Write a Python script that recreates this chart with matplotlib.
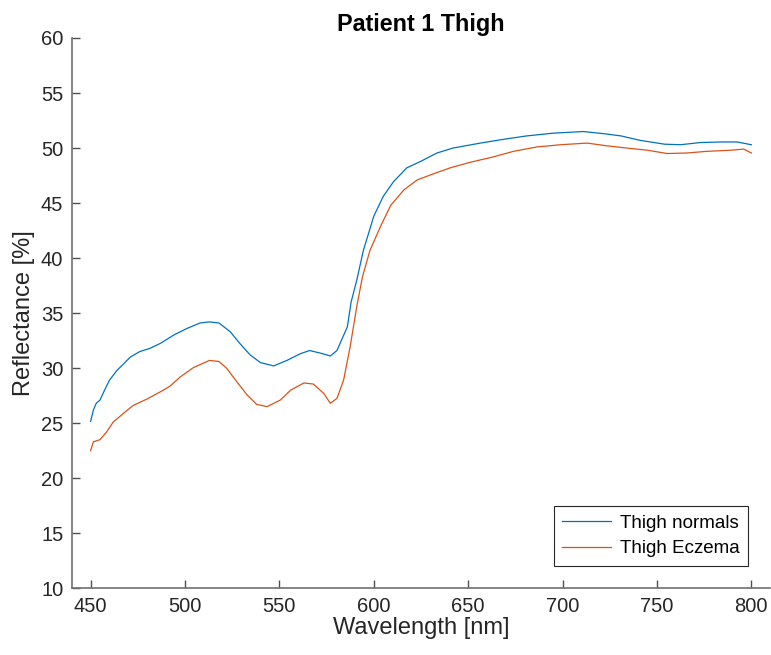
import matplotlib.pyplot as plt

plt.rcParams['font.family'] = ['Liberation Sans', 'DejaVu Sans']

# wavelength [nm] / reflectance [%]
wl_normal = [450, 451.5, 453, 455, 457, 460, 464, 467, 471, 476, 481.5, 487, 494, 501, 508,
             513, 518, 524, 529, 534.5, 540, 547, 554, 561, 566, 572, 577, 580.5, 586, 588,
             591, 594.5, 600, 605, 610.5, 617.5, 625, 633.5, 642, 656.5, 669, 681, 695, 711,
             722, 731, 741, 754, 762.5, 773, 784, 792.5, 800]
refl_normal = [25.15, 26.2, 26.8, 27.1, 27.85, 28.9, 29.8, 30.3, 31.0, 31.5, 31.8, 32.25, 33.0, 33.6, 34.1,
               34.2, 34.1, 33.3, 32.25, 31.2, 30.5, 30.2, 30.7, 31.3, 31.6, 31.35, 31.1, 31.6, 33.75, 36.0,
               38.0, 40.7, 43.8, 45.6, 46.95, 48.2, 48.8, 49.55, 50.0, 50.45, 50.8, 51.1, 51.35, 51.5,
               51.3, 51.1, 50.7, 50.35, 50.3, 50.5, 50.55, 50.55, 50.3]

wl_eczema = [450, 451.5, 455, 458.5, 462, 467.5, 472.5, 480, 487, 492, 497.5, 504.5, 513, 518,
             522, 527.5, 533, 538, 543.5, 550.5, 556, 563, 568, 573.5, 577, 580.5, 584, 587.5,
             591, 594, 598, 603.5, 609, 616, 623, 631.5, 640.5, 651, 663.5, 674, 686.5, 699,
             713, 723.5, 734, 745, 755.5, 766, 776.5, 789, 796, 800]
refl_eczema = [22.5, 23.3, 23.5, 24.2, 25.1, 25.9, 26.6, 27.2, 27.85, 28.35, 29.2, 30.05, 30.7, 30.6,
               30.0, 28.75, 27.55, 26.7, 26.5, 27.1, 28.0, 28.65, 28.55, 27.7, 26.8, 27.25, 28.9, 31.95,
               35.6, 38.3, 40.7, 42.85, 44.8, 46.2, 47.1, 47.65, 48.2, 48.7, 49.2, 49.7, 50.1, 50.3,
               50.45, 50.2, 50.0, 49.8, 49.5, 49.55, 49.7, 49.8, 49.9, 49.55]

fig = plt.figure(figsize=(7.71, 6.55), dpi=100)
ax = fig.add_axes([0.093, 0.102, 0.906, 0.840])

ax.plot(wl_normal, refl_normal, color='#0072BD', lw=0.9, label='Thigh normals')
ax.plot(wl_eczema, refl_eczema, color='#D95319', lw=0.9, label='Thigh Eczema')

ax.set_xlim(440, 810)
ax.set_ylim(10, 60)
ax.set_xticks(range(450, 801, 50))
ax.set_yticks(range(10, 61, 5))

for s in ['top', 'right']:
    ax.spines[s].set_visible(False)
for s in ['left', 'bottom']:
    ax.spines[s].set_color('#707070')
    ax.spines[s].set_linewidth(1.2)
ax.tick_params(direction='in', length=6, width=1, color='#505050',
               labelsize=14.5, labelcolor='#262626', pad=6)

ax.set_xlabel('Wavelength [nm]', fontsize=17, color='#262626', labelpad=1)
ax.set_ylabel('Reflectance [%]', fontsize=17, color='#262626', labelpad=4)
ax.set_title('Patient 1 Thigh', fontsize=16.8, fontweight='bold', pad=5)

leg = ax.legend(loc='lower right', bbox_to_anchor=(0.982, 0.024), fontsize=13.5,
                fancybox=False, framealpha=1, edgecolor='#262626',
                handlelength=2.6, borderpad=0.45, labelspacing=0.45, handletextpad=0.5)
leg.get_frame().set_linewidth(0.8)

fig.savefig('out.png', dpi=100)
